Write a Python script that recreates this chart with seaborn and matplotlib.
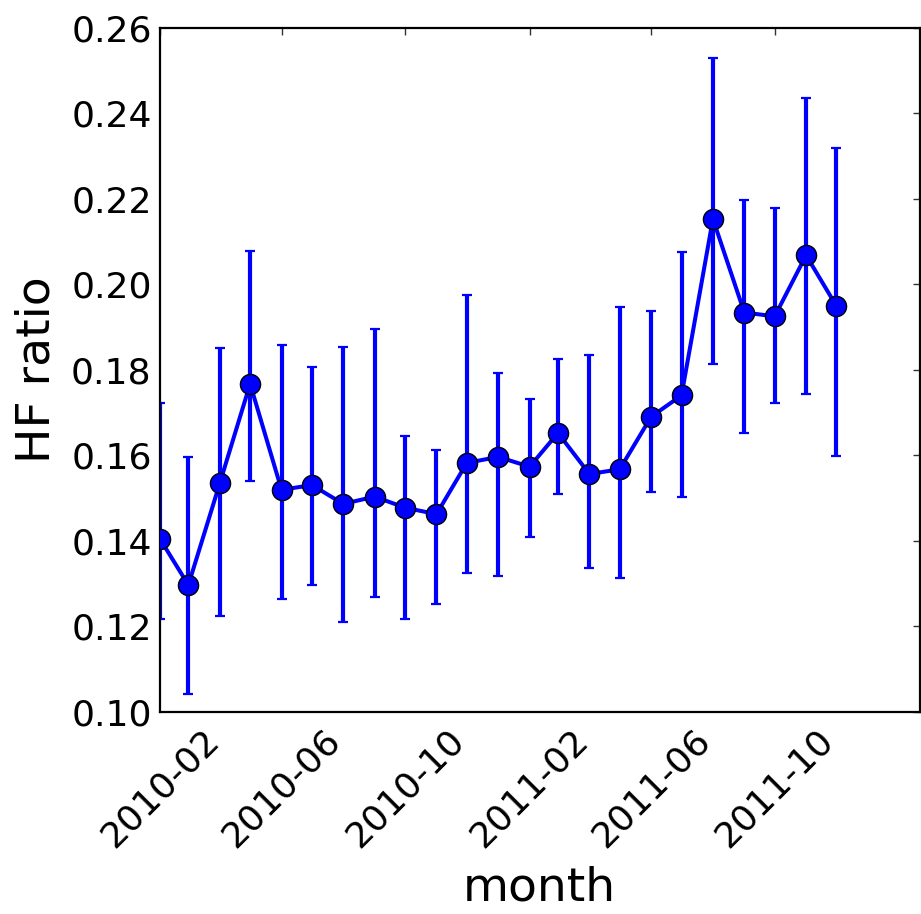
import matplotlib
matplotlib.use("Agg")
import matplotlib.pyplot as plt
import matplotlib.dates as mdates
import matplotlib.ticker as mticker
import numpy as np
import pandas as pd
import seaborn as sns

months = pd.date_range("2010-02-01", periods=23, freq="MS")
hf_ratio = [0.1404, 0.1296, 0.1534, 0.1767, 0.1519, 0.1530, 0.1486, 0.1503,
            0.1477, 0.1462, 0.1582, 0.1596, 0.1573, 0.1652, 0.1556, 0.1567,
            0.1690, 0.1740, 0.2153, 0.1934, 0.1925, 0.2068, 0.1949]
err_upper = [0.1723, 0.1595, 0.1852, 0.2078, 0.1857, 0.1806, 0.1854, 0.1896,
             0.1645, 0.1612, 0.1975, 0.1793, 0.1732, 0.1825, 0.1835, 0.1947,
             0.1938, 0.2076, 0.2529, 0.2198, 0.2178, 0.2435, 0.2319]
err_lower = [0.1217, 0.1040, 0.1224, 0.1540, 0.1263, 0.1295, 0.1210, 0.1267,
             0.1217, 0.1252, 0.1325, 0.1318, 0.1409, 0.1509, 0.1335, 0.1312,
             0.1513, 0.1502, 0.1814, 0.1652, 0.1721, 0.1743, 0.1598]
x_tick_months = ["2010-02", "2010-06", "2010-10", "2011-02", "2011-06", "2011-10"]
y_ticks = [0.10, 0.12, 0.14, 0.16, 0.18, 0.20, 0.22, 0.24, 0.26]

df = pd.DataFrame({"month": months, "HF ratio": hf_ratio,
                   "lo": err_lower, "hi": err_upper})

sns.set_style("white")
plt.rcParams["font.family"] = ["DejaVu Sans"]
plt.rcParams["text.color"] = "black"
plt.rcParams["axes.labelcolor"] = "black"
plt.rcParams["xtick.color"] = "black"
plt.rcParams["ytick.color"] = "black"

W, H = 921, 914
fig = plt.figure(figsize=(W / 100, H / 100), dpi=100)
ax = fig.add_axes([160 / W, (H - 711.5) / H, (919.5 - 160) / W, (711.5 - 28) / H])

yerr = np.vstack([df["HF ratio"] - df["lo"], df["hi"] - df["HF ratio"]])
ax.errorbar(df["month"], df["HF ratio"], yerr=yerr, fmt="none",
            ecolor="#0000ff", elinewidth=3.0, capsize=3.3, capthick=1.6, zorder=2)
sns.lineplot(data=df, x="month", y="HF ratio", ax=ax, color="#0000ff",
             linewidth=2.9, marker="o", markersize=14.5, markerfacecolor="#0000ff",
             markeredgecolor="black", markeredgewidth=1.0, zorder=3)

ax.set_xlim(pd.Timestamp("2010-02-01"), pd.Timestamp("2012-02-21"))
ax.set_ylim(0.10, 0.26)
ax.set_yticks(y_ticks)
ax.set_yticklabels([f"{v:.2f}" for v in y_ticks])
tick_dates = [mdates.date2num(pd.Timestamp(m + "-01")) for m in x_tick_months]
ax.xaxis.set_major_locator(mticker.FixedLocator(tick_dates))
ax.xaxis.set_major_formatter(mdates.DateFormatter("%Y-%m"))
ax.xaxis.set_minor_locator(mticker.NullLocator())

for lab in ax.get_xticklabels():
    lab.set_rotation(45)
    lab.set_ha("center")

ax.tick_params(axis="both", which="major", direction="in", length=5, width=1,
               labelsize=26, top=True, right=True, pad=6)
ax.tick_params(axis="x", which="major", color="#333333", pad=8)
ax.tick_params(axis="y", which="major", color="#333333")
for s in ax.spines.values():
    s.set_visible(True)
    s.set_color("black")
    s.set_linewidth(1.6)

ax.set_xlabel("month", fontsize=34, labelpad=9)
ax.set_ylabel("HF ratio", fontsize=34, labelpad=8)

fig.savefig("out.png", dpi=100)
